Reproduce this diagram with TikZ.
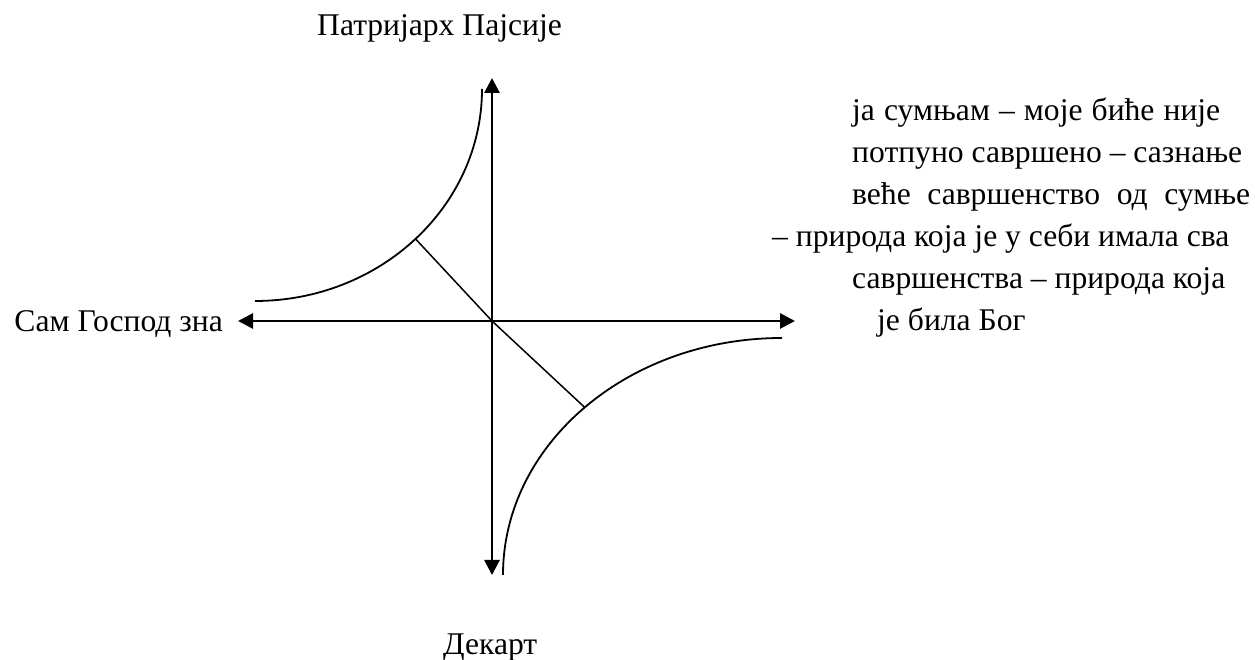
\documentclass[tikz,border=0pt]{standalone}
\usepackage{fontspec}
\setmainfont{Liberation Serif}
\usetikzlibrary{arrows.meta,calc}
\begin{document}
\begin{tikzpicture}[x=1pt,y=1pt,
  axis/.style={line width=2.8pt,-{Triangle[length=15pt,width=15pt]}},
  curve/.style={line width=1.8pt},
  diag/.style={line width=1.5pt},
  lbl/.style={inner sep=0pt,font=\fontsize{31.6}{42}\selectfont}]
\useasboundingbox (0,0) rectangle (1255,660);
\coordinate (O) at (492,339);
\coordinate (T) at (492,582);
\coordinate (B) at (492,85);
\coordinate (L) at (238,339);
\coordinate (R) at (795,339);
\draw[axis] (O) -- (T);
\draw[axis] (O) -- (B);
\draw[axis] (O) -- (L);
\draw[axis] (O) -- (R);
% upper-left arc
\coordinate (ulc) at (255,571);
\coordinate (ul) at ($(ulc)+(315:227 and 212)$);
\draw[curve] (255,359) arc[start angle=270,end angle=360,x radius=227,y radius=212];
% lower-right arc
\coordinate (lrc) at (782,85);
\coordinate (lr) at ($(lrc)+(135:279 and 237)$);
\draw[curve] (503,85) arc[start angle=180,end angle=90,x radius=279,y radius=237];
\draw[diag] (ul) -- (O) -- (lr);
% labels
\node[lbl,anchor=base west] (top) at (317,624) {Патријарх Пајсије};
\node[lbl,anchor=base west] (bot) at (443,5) {Декарт};
\node[lbl,anchor=base east] (left) at (223,328) {Сам Господ зна};
\node[lbl,anchor=base west] (r1) at (852,539.3) {\makebox[368pt][l]{ја\hfill сумњам\hfill –\hfill моје\hfill биће\hfill није}};
\node[lbl,anchor=base west] (r2) at (852,497.3) {потпуно савршено – сазнање};
\node[lbl,anchor=base west] (r3) at (852,455.3) {\makebox[398pt][l]{веће\hfill савршенство\hfill од\hfill сумње}};
\node[lbl,anchor=base west] (r4) at (772,413.3) {– природа која је у себи имала сва};
\node[lbl,anchor=base west] (r5) at (852,371.3) {савршенства – природа која};
\node[lbl,anchor=base west] (r6) at (877,329.3) {је била Бог};
\end{tikzpicture}
\end{document}
